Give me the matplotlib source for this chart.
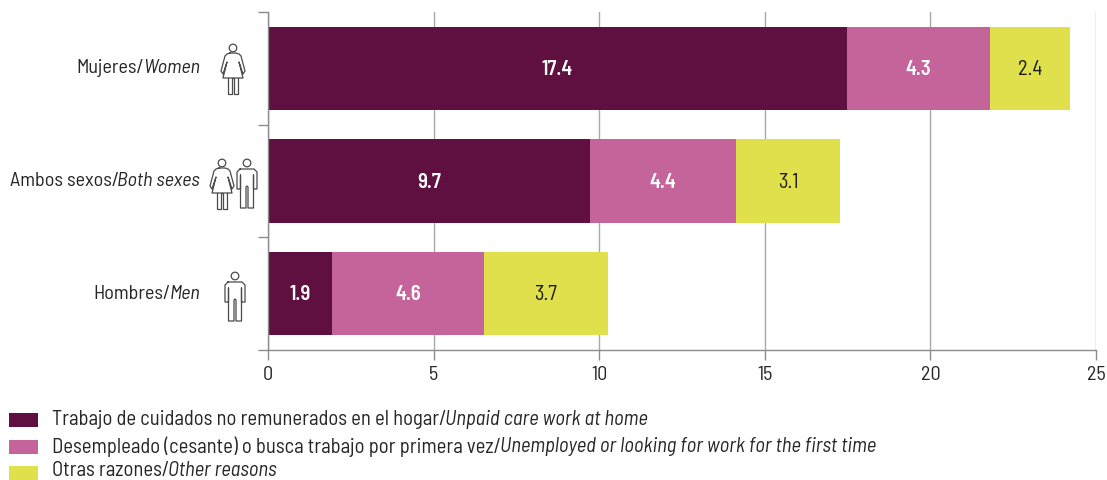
import matplotlib
matplotlib.use("Agg")

import matplotlib.pyplot as plt
from matplotlib import font_manager as fm

categories = ["Hombres", "Ambos sexos", "Mujeres"]
categories_en = ["Men", "Both sexes", "Women"]

care = [1.92, 9.72, 17.48]
unemployed = [4.60, 4.42, 4.32]
other = [3.75, 3.13, 2.42]

care_labels = ["1.9", "9.7", "17.4"]
unemployed_labels = ["4.6", "4.4", "4.3"]
other_labels = ["3.7", "3.1", "2.4"]

x_ticks = [0, 5, 10, 15, 20, 25]

legend_es = [
    "Trabajo de cuidados no remunerados en el hogar/",
    "Desempleado (cesante) o busca trabajo por primera vez/",
    "Otras razones/",
]
legend_en = [
    "Unpaid care work at home",
    "Unemployed or looking for work for the first time",
    "Other reasons",
]

DARK = "#5F1040"
PINK = "#C5649A"
YELLOW = "#DFE04B"
GRID = "#A8A8A8"
TEXT = "#262626"
ICON = "#4a4a4a"

W, H = 1107, 481

# condensed DIN-like face when present, Roboto otherwise
names = {f.name for f in fm.fontManager.ttflist}
if "Barlow Semi Condensed" in names:
    FONT, CAT_SIZE, LEG_SIZE, VAL_SIZE, TICK_SIZE = "Barlow Semi Condensed", 14.5, 14.85, 14.8, 14.5
else:
    FONT, CAT_SIZE, LEG_SIZE, VAL_SIZE, TICK_SIZE = "Roboto", 12.2, 12.9, 12.5, 12.5
plt.rcParams["font.family"] = [FONT, "DejaVu Sans"]

fig = plt.figure(figsize=(W / 100, H / 100), dpi=100, facecolor="white")

# axes box in pixels: x 268-1096, y 13-351
ax = fig.add_axes([268 / W, 1 - 351 / H, (1096 - 268) / W, (351 - 13) / H])
ax.set_xlim(0, 25)
ax.set_ylim(-0.5, 2.5)

# overlay in pixel coordinates for icons, legend and mixed roman/italic text
ov = fig.add_axes([0, 0, 1, 1], zorder=5)
ov.axis("off")

ax.set_axisbelow(True)
ax.grid(axis="x", color=GRID, linewidth=1.0)
for s in ["top", "right"]:
    ax.spines[s].set_visible(False)
for s in ["left", "bottom"]:
    ax.spines[s].set_color("#8C8C8C")
    ax.spines[s].set_linewidth(1.0)

y = range(len(categories))
left2 = [a + b for a, b in zip(care, unemployed)]
ax.barh(y, care, height=0.74, color=DARK)
ax.barh(y, unemployed, left=care, height=0.74, color=PINK)
ax.barh(y, other, left=left2, height=0.74, color=YELLOW)

for i in y:
    ax.text(care[i] / 2, i, care_labels[i], ha="center", va="center",
            color="white", fontsize=VAL_SIZE, fontweight=600)
    ax.text(care[i] + unemployed[i] / 2, i, unemployed_labels[i], ha="center", va="center",
            color="white", fontsize=VAL_SIZE, fontweight=600)
    ax.text(left2[i] + other[i] / 2, i, other_labels[i], ha="center", va="center",
            color="#1a1a1a", fontsize=VAL_SIZE)

ax.set_xticks(x_ticks)
ax.set_yticks([-0.5, 0.5, 1.5, 2.5])
ax.set_yticklabels([])
ax.tick_params(axis="both", length=7, width=1.0, color="#8C8C8C")
ax.tick_params(axis="x", labelsize=TICK_SIZE, labelcolor=TEXT, pad=4)

renderer = fig.canvas.get_renderer()


def text_width(s, size, style="normal"):
    t = ov.text(0, 0, s, fontsize=size, style=style)
    w = t.get_window_extent(renderer).width
    t.remove()
    return w


def mixed_left(x, yp, roman, italic, size):
    ov.text(x, yp, roman, fontsize=size, color=TEXT, ha="left", va="center")
    ov.text(x + text_width(roman, size) - 1.5, yp, italic, fontsize=size, style="italic",
            color=TEXT, ha="left", va="center")


def mixed_right(x, yp, roman, italic, size):
    w = text_width(italic, size, "italic")
    ov.text(x - w + 1.5, yp, roman, fontsize=size, color=TEXT, ha="right", va="center")
    ov.text(x, yp, italic, fontsize=size, style="italic", color=TEXT, ha="right", va="center")


def woman(cx, top):
    ov.add_patch(plt.Circle((cx, top + 4), 3.8, fill=False, ec=ICON, lw=0.9))
    xs = [-3, -6, -8, -12, -10, -6, -10, 10, 6, 10, 12, 8, 6, 3, -3]
    ys = [9, 10, 12, 27, 30, 18, 34, 34, 18, 30, 27, 12, 10, 9, 9]
    ov.plot([cx + a for a in xs], [top + b for b in ys], color=ICON, lw=0.9)
    xs = [-5, -5, -1, -1, 1, 1, 5, 5]
    ys = [34, 50, 50, 34, 34, 50, 50, 34]
    ov.plot([cx + a for a in xs], [top + b for b in ys], color=ICON, lw=0.9)


def man(cx, top):
    ov.add_patch(plt.Circle((cx, top + 4), 3.8, fill=False, ec=ICON, lw=0.9))
    xs = [-7, 7, 10, 10, 6.5, 6.5, 6.5, 6.5, 1, 1, 0, -1, -1, -6.5, -6.5, -6.5, -6.5, -10, -10, -7]
    ys = [10, 10, 13, 30, 30, 16, 30, 49, 49, 28, 27, 28, 49, 49, 30, 16, 30, 30, 13, 10]
    ov.plot([cx + a for a in xs], [top + b for b in ys], color=ICON, lw=0.9)


# category labels
for yp, es, en in zip([294, 181, 68], categories, categories_en):
    mixed_right(200, yp, es + "/", en, CAT_SIZE)

# legend, last line pulled up a little so it stays inside the figure
for yp, text_y, colour, es, en in zip([421, 448, 474], [420, 447, 471], [DARK, PINK, YELLOW],
                                      legend_es, legend_en):
    ov.add_patch(plt.Rectangle((9, yp - 7), 29, 14, color=colour, linewidth=0))
    mixed_left(52, text_y, es, en, LEG_SIZE)

woman(233, 45)
woman(222, 160)
man(247, 160)
man(235, 273)

ov.set_xlim(0, W)
ov.set_ylim(H, 0)

fig.savefig("out.png", dpi=100, facecolor="white")
